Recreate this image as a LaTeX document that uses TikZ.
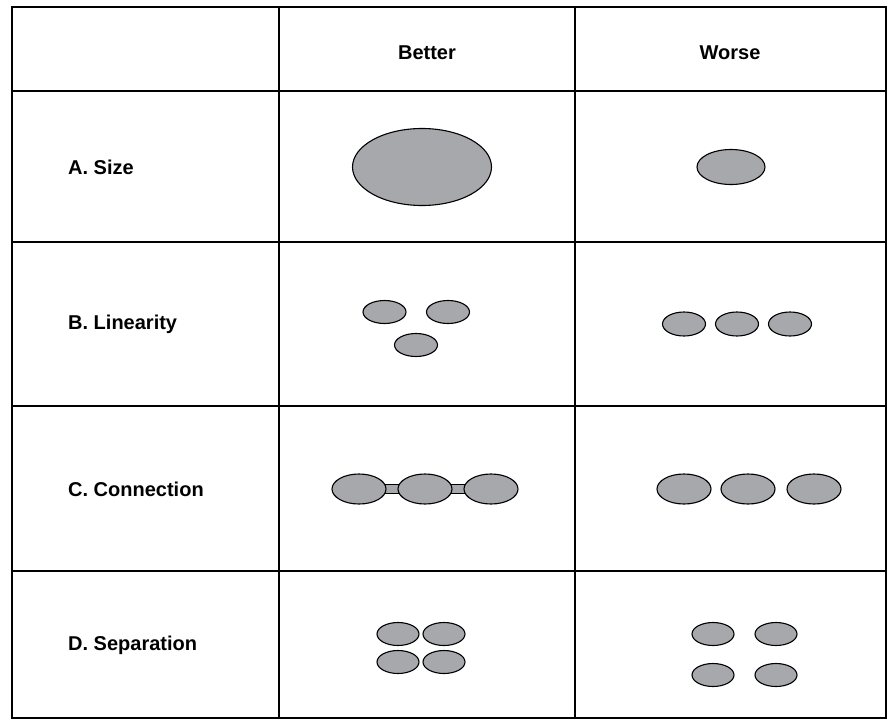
\documentclass[tikz,border=0pt]{standalone}
\usepackage{fontspec}
\setmainfont{Liberation Sans}
\usepackage{xcolor}
\usepackage{tikz}
\usetikzlibrary{shapes.geometric, backgrounds}
\definecolor{blobgray}{RGB}{167,168,172}

\begin{document}
\begin{tikzpicture}[x=1pt, y=-1pt,
    blob/.style={ellipse, draw, line width=1.1pt, fill=blobgray, inner sep=0pt},
    lbl/.style={font=\fontsize{20}{24}\selectfont\bfseries, inner sep=0pt},
    bar/.style={draw, line width=1.1pt, fill=blobgray}]
  \useasboundingbox (0,0) rectangle (888,720);
  % table
  \draw[line width=1.3pt] (12,91) -- (886,91) (12,242) -- (886,242)
    (12,406) -- (886,406) (12,571) -- (886,571)
    (279,7) -- (279,718) (575,7) -- (575,718);
  \draw[line width=2pt] (12,7) rectangle (886,718);
  % headings
  \node[lbl] (better) at (427,53) {Better};
  \node[lbl] (worse) at (730,53) {Worse};
  \node[lbl, anchor=west] (size) at (68,167) {A. Size};
  \node[lbl, anchor=west] (lin) at (68,324) {B. Linearity};
  \node[lbl, anchor=west] (con) at (68,489) {C. Connection};
  \node[lbl, anchor=west] (sep) at (68,645) {D. Separation};
  % A
  \node[blob, minimum width=139pt, minimum height=77pt] (ab) at (422,167) {};
  \node[blob, minimum width=68pt, minimum height=35pt] (aw) at (731,167) {};
  % B
  \node[blob, minimum width=43pt, minimum height=23pt] (bb1) at (384.5,312) {};
  \node[blob, minimum width=43pt, minimum height=23pt] (bb2) at (448,312) {};
  \node[blob, minimum width=43pt, minimum height=23pt] (bb3) at (416,345) {};
  \node[blob, minimum width=43pt, minimum height=24pt] (bw1) at (684,324) {};
  \node[blob, minimum width=43pt, minimum height=24pt] (bw2) at (737,324) {};
  \node[blob, minimum width=43pt, minimum height=24pt] (bw3) at (790,324) {};
  % C
  \node[blob, minimum width=54pt, minimum height=30pt] (cb1) at (359,489) {};
  \node[blob, minimum width=54pt, minimum height=30pt] (cb2) at (425,489) {};
  \node[blob, minimum width=54pt, minimum height=30pt] (cb3) at (491,489) {};
  \begin{pgfonlayer}{background}
    \draw[bar] ([yshift=4.5pt]cb1.center) rectangle ([yshift=-4.5pt]cb2.center);
    \draw[bar] ([yshift=4.5pt]cb2.center) rectangle ([yshift=-4.5pt]cb3.center);
  \end{pgfonlayer}
  \node[blob, minimum width=54pt, minimum height=30pt] (cw1) at (684,489) {};
  \node[blob, minimum width=54pt, minimum height=30pt] (cw2) at (748,489) {};
  \node[blob, minimum width=54pt, minimum height=30pt] (cw3) at (814,489) {};
  % D
  \node[blob, minimum width=42pt, minimum height=23pt] (db1) at (398,634) {};
  \node[blob, minimum width=42pt, minimum height=23pt] (db2) at (444,634) {};
  \node[blob, minimum width=42pt, minimum height=23pt] (db3) at (398,662) {};
  \node[blob, minimum width=42pt, minimum height=23pt] (db4) at (444,662) {};
  \node[blob, minimum width=42pt, minimum height=23pt] (dw1) at (713,634) {};
  \node[blob, minimum width=42pt, minimum height=23pt] (dw2) at (776,634) {};
  \node[blob, minimum width=42pt, minimum height=23pt] (dw3) at (713,675) {};
  \node[blob, minimum width=42pt, minimum height=23pt] (dw4) at (776,675) {};
\end{tikzpicture}
\end{document}
